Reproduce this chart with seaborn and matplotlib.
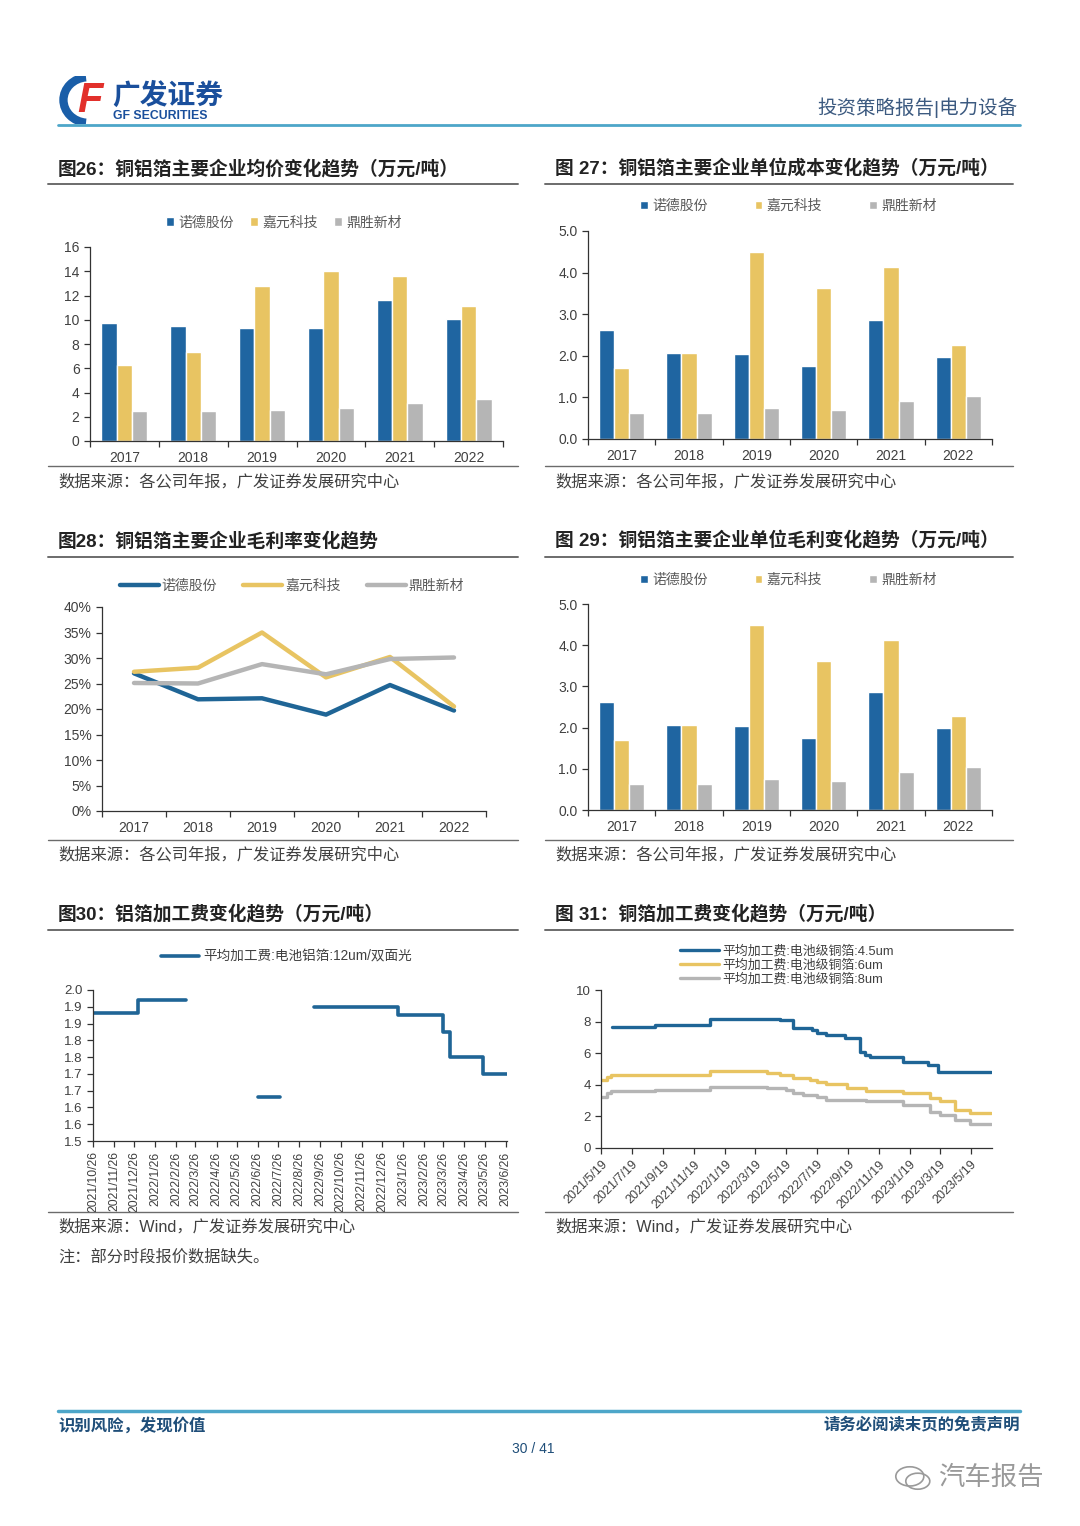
import matplotlib
matplotlib.use("Agg")
import matplotlib.pyplot as plt
from matplotlib.lines import Line2D
from matplotlib.patches import Arc
import numpy as np
import pandas as pd
import seaborn as sns

# ---------------- data ----------------
years = [2017, 2018, 2019, 2020, 2021, 2022]
companies = ['诺德股份', '嘉元科技', '鼎胜新材']

# fig 26: average price (10k yuan / t)
price_nord = [9.7, 9.45, 9.3, 9.3, 11.6, 10.1]
price_jiayuan = [6.3, 7.3, 12.8, 14.0, 13.6, 11.1]
price_dingsheng = [2.45, 2.5, 2.55, 2.7, 3.1, 3.5]

# fig 27: unit cost
cost_nord = [2.61, 2.06, 2.04, 1.76, 2.86, 1.98]
cost_jiayuan = [1.71, 2.06, 4.49, 3.62, 4.14, 2.26]
cost_dingsheng = [0.62, 0.62, 0.74, 0.70, 0.92, 1.04]

# fig 28: gross margin (%)
margin_nord = [27.0, 21.9, 22.1, 18.9, 24.7, 19.7]
margin_jiayuan = [27.3, 28.1, 35.0, 26.2, 30.2, 20.5]
margin_dingsheng = [25.1, 25.0, 28.8, 26.8, 29.8, 30.1]

# fig 29: unit gross profit
profit_nord = [2.61, 2.07, 2.05, 1.75, 2.86, 1.99]
profit_jiayuan = [1.70, 2.07, 4.48, 3.62, 4.13, 2.27]
profit_dingsheng = [0.62, 0.62, 0.75, 0.71, 0.92, 1.04]

# fig 30: aluminium foil processing fee (step changes, 3 quoted blocks)
al_dates = ['2021-10-26', '2022-01-01', '2022-03-12',
            '2022-06-26', '2022-07-28',
            '2022-09-17', '2023-01-19', '2023-03-26', '2023-04-05', '2023-05-24', '2023-06-28']
al_fee = [1.88, 1.92, 1.92,
          1.63, 1.63,
          1.90, 1.875, 1.825, 1.75, 1.70, 1.70]
al_block = [1, 1, 1, 2, 2, 3, 3, 3, 3, 3, 3]
al_label = '平均加工费:电池铝箔:12um/双面光'
al_ytick_labels = ['1.5', '1.6', '1.6', '1.7', '1.7', '1.8', '1.8', '1.9', '1.9', '2.0']

# fig 31: copper foil processing fee (step changes)
cu45_dates = ['2021-06-09', '2021-09-03', '2021-12-20', '2022-05-07', '2022-06-03', '2022-07-09',
              '2022-07-19', '2022-08-07', '2022-09-12', '2022-10-12', '2022-10-22', '2022-11-01',
              '2023-01-06', '2023-02-24', '2023-03-16', '2023-06-29']
cu45_fee = [7.68, 7.79, 8.17, 8.1, 7.62, 7.47, 7.26, 7.15, 6.98, 6.1, 5.9, 5.75,
            5.47, 5.25, 4.82, 4.82]
cu6_dates = ['2021-05-19', '2021-05-30', '2021-06-07', '2021-09-03', '2021-12-20', '2022-04-11',
             '2022-05-07', '2022-06-03', '2022-07-05', '2022-07-19', '2022-08-07', '2022-09-16',
             '2022-10-25', '2023-01-06', '2023-02-27', '2023-03-19', '2023-04-18', '2023-05-17',
             '2023-06-29']
cu6_fee = [4.3, 4.5, 4.6, 4.65, 4.85, 4.75, 4.65, 4.4, 4.3, 4.15, 4.05, 3.8,
           3.6, 3.5, 3.15, 2.95, 2.4, 2.2, 2.2]
cu8_dates = ['2021-05-19', '2021-05-30', '2021-06-07', '2021-09-03', '2021-12-20', '2022-04-11',
             '2022-05-20', '2022-06-03', '2022-06-22', '2022-07-19', '2022-08-07', '2022-10-25',
             '2023-01-06', '2023-02-27', '2023-03-19', '2023-04-18', '2023-05-17', '2023-06-29']
cu8_fee = [3.25, 3.5, 3.6, 3.65, 3.85, 3.8, 3.7, 3.45, 3.35, 3.2, 3.05, 2.95,
           2.7, 2.3, 2.1, 1.8, 1.5, 1.5]
cu_labels = ['平均加工费:电池级铜箔:4.5um', '平均加工费:电池级铜箔:6um', '平均加工费:电池级铜箔:8um']

BLUE, YELLOW, GRAY = '#1F65A1', '#E8C462', '#B5B5B5'
LBLUE = '#1F6596'

# ---------------- page ----------------
sns.set_style('ticks')
plt.rcParams['font.family'] = ['Liberation Sans', 'Noto Sans CJK SC', 'DejaVu Sans']
plt.rcParams['axes.unicode_minus'] = False

W, H = 1080, 1526
fig = plt.figure(figsize=(W / 100, H / 100), dpi=100)
fig.patch.set_facecolor('white')


def add_ax(l, t, r, b):
    return fig.add_axes([l / W, 1 - b / H, (r - l) / W, (b - t) / H])


def hline(x0, x1, y, color, lw):
    fig.add_artist(Line2D([x0 / W, x1 / W], [1 - y / H, 1 - y / H],
                          transform=fig.transFigure, color=color, lw=lw))


def text(x, y, s, **kw):
    fig.text(x / W, 1 - y / H, s, **kw)


def base_style(ax, labelsize=10):
    sns.despine(ax=ax)
    for s in ['left', 'bottom']:
        ax.spines[s].set_color('#333333')
        ax.spines[s].set_linewidth(0.9)
    ax.tick_params(axis='both', which='both', direction='out', length=4, width=0.9,
                   color='#333333', labelsize=labelsize, labelcolor='#404040')
    ax.set_xlabel('')
    ax.set_ylabel('')


def cat_xaxis(ax, lo, hi):
    ax.set_xlim(lo, hi)
    ax.set_xticks(np.arange(lo + 0.5, hi))
    ax.set_xticks(np.arange(lo, hi + 0.01), minor=True)
    ax.tick_params(axis='x', which='major', length=0, pad=7)


def bar_panel(rect, a, b, c, ylim, yticks, fmt, anchor, colspace):
    ax = add_ax(*rect)
    df = pd.DataFrame({'year': years * 3,
                       'company': np.repeat(companies, len(years)),
                       'value': a + b + c})
    sns.barplot(data=df, x='year', y='value', hue='company', hue_order=companies,
                palette=[BLUE, YELLOW, GRAY], saturation=1, width=0.67, gap=0,
                errorbar=None, ax=ax)
    base_style(ax)
    cat_xaxis(ax, -0.5, len(years) - 0.5)
    ax.set_ylim(*ylim)
    ax.set_yticks(yticks)
    ax.set_yticklabels([fmt.format(v) for v in yticks])
    sns.move_legend(ax, 'center', bbox_to_anchor=anchor, ncol=3, frameon=False, title=None,
                    fontsize=10, labelcolor='#595959', handlelength=0.55, handleheight=0.55,
                    handletextpad=0.3, columnspacing=colspace)
    return ax


# header
logo = add_ax(58, 76, 110, 124)
logo.set_xlim(0, 1)
logo.set_ylim(0, 1)
logo.axis('off')
logo.add_patch(Arc((0.58, 0.5), 0.95, 0.95, theta1=95, theta2=265, lw=6, color='#1A5EA8'))
logo.text(0.62, 0.48, 'F', color='#E2302B', fontsize=30, fontweight='bold', style='italic',
          ha='center', va='center')
text(112, 96, '广发证券', fontsize=20, fontweight='bold', color='#1A4F9C', va='center')
text(113, 116, 'GF SECURITIES', fontsize=8.8, fontweight='bold', color='#1A4F9C', va='center')
text(1017, 108, '投资策略报告|电力设备', fontsize=14, color='#3C5A80', ha='right', va='center')
hline(58, 1020, 125, '#4DA6C9', 2)

# titles, rules, sources
title_kw = dict(fontsize=13.5, fontweight='bold', color='#222222', va='center')
src_kw = dict(fontsize=11.7, color='#404040', va='center')
titles = [(58, 169, '图26：铜铝箔主要企业均价变化趋势（万元/吨）'),
          (555, 169, '图 27：铜铝箔主要企业单位成本变化趋势（万元/吨）'),
          (58, 541, '图28：铜铝箔主要企业毛利率变化趋势'),
          (555, 541, '图 29：铜铝箔主要企业单位毛利变化趋势（万元/吨）'),
          (58, 914, '图30：铝箔加工费变化趋势（万元/吨）'),
          (555, 914, '图 31：铜箔加工费变化趋势（万元/吨）')]
for x, y, s in titles:
    text(x, y, s, **title_kw)
for y_top, y_bot in [(184, 466), (557, 840), (930, 1212)]:
    hline(48, 518, y_top, '#6b6b6b', 1.4)
    hline(545, 1013, y_top, '#6b6b6b', 1.4)
    hline(48, 518, y_bot, '#6b6b6b', 1.0)
    hline(545, 1013, y_bot, '#6b6b6b', 1.0)
src_company = '数据来源：各公司年报，广发证券发展研究中心'
src_wind = '数据来源：Wind，广发证券发展研究中心'
for x, y, s in [(58, 482, src_company), (555, 482, src_company),
                (58, 855, src_company), (555, 855, src_company),
                (58, 1227, src_wind), (555, 1227, src_wind),
                (58, 1257, '注：部分时段报价数据缺失。')]:
    text(x, y, s, **src_kw)

# fig 26
bar_panel((90, 247, 503, 441), price_nord, price_jiayuan, price_dingsheng,
          (0, 16), np.arange(0, 17, 2), '{:.0f}', (0.47, 1.127), 1.2)
# fig 27
bar_panel((588, 231, 992, 439), cost_nord, cost_jiayuan, cost_dingsheng,
          (0, 5), np.arange(0, 5.01, 1.0), '{:.1f}', (0.496, 1.12), 3.4)
# fig 29
bar_panel((588, 604, 992, 810), profit_nord, profit_jiayuan, profit_dingsheng,
          (0, 5), np.arange(0, 5.01, 1.0), '{:.1f}', (0.496, 1.118), 3.4)

# fig 28
ax = add_ax(102, 607, 486, 811)
df28 = pd.DataFrame({'year': years * 3,
                     'company': np.repeat(companies, len(years)),
                     'margin': margin_nord + margin_jiayuan + margin_dingsheng})
sns.lineplot(data=df28, x='year', y='margin', hue='company', hue_order=companies,
             palette=[LBLUE, YELLOW, GRAY], linewidth=3.2, ax=ax)
base_style(ax)
cat_xaxis(ax, 2016.5, 2022.5)
ax.set_xticklabels([str(y) for y in years])
ax.set_ylim(0, 40)
ax.set_yticks(np.arange(0, 41, 5))
ax.set_yticklabels([f'{v}%' for v in range(0, 41, 5)])
sns.move_legend(ax, 'center', bbox_to_anchor=(0.495, 1.106), ncol=3, frameon=False, title=None,
                fontsize=10, labelcolor='#595959', handlelength=2.8, handletextpad=0.2,
                columnspacing=1.9)

# fig 30
ax = add_ax(93, 990, 507, 1141)
df30 = pd.DataFrame({'date': pd.to_datetime(al_dates), 'fee': al_fee, 'block': al_block,
                     'series': al_label})
sns.lineplot(data=df30, x='date', y='fee', hue='series', units='block', estimator=None,
             palette=[LBLUE], linewidth=2.6, drawstyle='steps-post', ax=ax)
base_style(ax, labelsize=9.5)
al_ticks = pd.date_range('2021-10-26', '2023-06-26', freq=pd.DateOffset(months=1))
ax.set_xlim(pd.Timestamp('2021-10-26'), pd.Timestamp('2023-06-28'))
ax.set_xticks(al_ticks)
ax.set_xticklabels([f'{d.year}/{d.month}/{d.day}' for d in al_ticks], rotation=90, fontsize=8.8)
ax.set_ylim(1.5, 1.95)
ax.set_yticks(np.linspace(1.5, 1.95, 10))
ax.set_yticklabels(al_ytick_labels)
sns.move_legend(ax, 'center', bbox_to_anchor=(0.468, 1.219), frameon=False, title=None,
                fontsize=9.8, labelcolor='#404040', handlelength=2.8, handletextpad=0.3)

# fig 31
ax = add_ax(601, 990, 992, 1148)
df31 = pd.DataFrame({'date': pd.to_datetime(cu45_dates + cu6_dates + cu8_dates),
                     'fee': cu45_fee + cu6_fee + cu8_fee,
                     'series': [cu_labels[0]] * len(cu45_dates) + [cu_labels[1]] * len(cu6_dates)
                               + [cu_labels[2]] * len(cu8_dates)})
sns.lineplot(data=df31, x='date', y='fee', hue='series', hue_order=cu_labels, estimator=None,
             palette=[LBLUE, YELLOW, GRAY], linewidth=2.4, drawstyle='steps-post', ax=ax)
base_style(ax, labelsize=9.5)
cu_ticks = pd.date_range('2021-05-19', '2023-05-19', freq=pd.DateOffset(months=2))
ax.set_xlim(pd.Timestamp('2021-05-19'), pd.Timestamp('2023-06-30'))
ax.set_xticks(cu_ticks)
ax.set_xticklabels([f'{d.year}/{d.month}/{d.day}' for d in cu_ticks], rotation=45,
                   ha='right', rotation_mode='anchor', fontsize=9)
ax.set_ylim(0, 10)
ax.set_yticks(np.arange(0, 11, 2))
sns.move_legend(ax, 'center', bbox_to_anchor=(0.475, 1.158), frameon=False, title=None,
                fontsize=9.3, labelcolor='#404040', handlelength=3.0, handletextpad=0.25,
                labelspacing=0.1)

# footer
hline(58, 1020, 1411, '#4DA6C9', 2.5)
text(58, 1425, '识别风险，发现价值', fontsize=11.8, fontweight='bold', color='#1F4E79', va='center')
text(1020, 1425, '请务必阅读末页的免责声明', fontsize=11.8, fontweight='bold', color='#1F4E79',
     ha='right', va='center')
text(533, 1449, '30 / 41', fontsize=10, color='#1F4E79', ha='center', va='center')
text(938, 1478, '汽车报告', fontsize=19, color='#9a9a9a', va='center')
icon = add_ax(893, 1462, 933, 1494)
icon.set_xlim(0, 1)
icon.set_ylim(0, 1)
icon.axis('off')
icon.add_patch(Arc((0.42, 0.55), 0.7, 0.6, lw=1.2, color='#9a9a9a'))
icon.add_patch(Arc((0.62, 0.4), 0.6, 0.5, lw=1.2, color='#9a9a9a'))

fig.savefig('out.png', dpi=100)
